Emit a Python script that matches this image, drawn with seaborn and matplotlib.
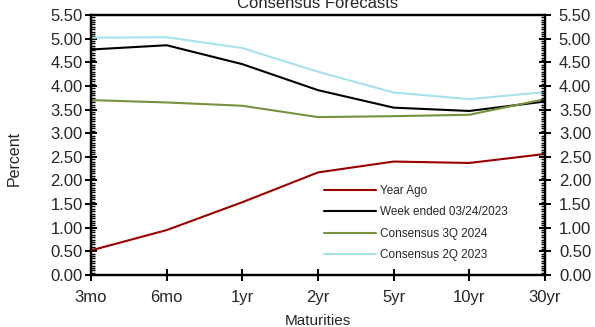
import matplotlib
matplotlib.use("Agg")
import matplotlib.pyplot as plt
from matplotlib.ticker import MultipleLocator, FormatStrFormatter
import seaborn as sns
import pandas as pd

# Treasury yield curve by maturity
maturities = ["3mo", "6mo", "1yr", "2yr", "5yr", "10yr", "30yr"]
year_ago = [0.52, 0.95, 1.54, 2.17, 2.40, 2.37, 2.56]
week_ended = [4.77, 4.86, 4.46, 3.91, 3.54, 3.47, 3.67]
consensus_3q24 = [3.70, 3.65, 3.58, 3.34, 3.36, 3.39, 3.72]
consensus_2q23 = [5.02, 5.03, 4.80, 4.30, 3.86, 3.72, 3.87]

series_names = ["Year Ago", "Week ended 03/24/2023",
                "Consensus 3Q 2024", "Consensus 2Q 2023"]
series_values = [year_ago, week_ended, consensus_3q24, consensus_2q23]
palette = ["#990000", "#000000", "#76923C", "#A6E1EC"]

rows = []
for name, vals in zip(series_names, series_values):
    for i, v in enumerate(vals):
        rows.append({"pos": i, "Series": name, "Percent": v})
df = pd.DataFrame(rows)

sns.set_theme(style="white")
plt.rcParams["font.family"] = ["Liberation Sans", "DejaVu Sans"]

fig = plt.figure(figsize=(5.95, 3.27), dpi=100)
ax = fig.add_axes([91 / 595, 1 - 275 / 327, (545 - 91) / 595, (275 - 15) / 327])

sns.lineplot(data=df, x="pos", y="Percent", hue="Series",
             hue_order=series_names, palette=palette, linewidth=1.5,
             ax=ax, legend=True)

ax.set_xlim(0, len(maturities) - 1)
ax.set_ylim(0, 5.5)
ax.set_xticks(range(len(maturities)))
ax.set_xticklabels(maturities)
ax.yaxis.set_major_locator(MultipleLocator(0.5))
ax.yaxis.set_minor_locator(MultipleLocator(0.05))
ax.yaxis.set_major_formatter(FormatStrFormatter("%.2f"))

for s in ax.spines.values():
    s.set_visible(True)
    s.set_color("black")
    s.set_linewidth(1.6)

ax.tick_params(axis="both", which="major", direction="inout", length=8,
               width=1.4, color="black", labelsize=12, pad=2,
               left=True, bottom=True)
ax.tick_params(axis="x", which="major", pad=7)
ax.tick_params(axis="y", which="minor", direction="in", length=3,
               width=1.0, color="black", left=True)

ax.set_xlabel("Maturities", fontsize=11, labelpad=6)
ax.set_ylabel("")
fig.text(14 / 595, 1 - 158 / 327, "Percent", rotation=90, ha="center",
         va="center", fontsize=11.5)

# Mirrored axis on the right
ax2 = ax.twinx()
ax2.set_ylim(ax.get_ylim())
ax2.yaxis.set_major_locator(MultipleLocator(0.5))
ax2.yaxis.set_minor_locator(MultipleLocator(0.05))
ax2.yaxis.set_major_formatter(FormatStrFormatter("%.2f"))
ax2.tick_params(axis="y", which="major", direction="inout", length=8,
                width=1.4, color="black", labelsize=12, pad=6, right=True)
ax2.tick_params(axis="y", which="minor", direction="in", length=3,
                width=1.0, color="black", right=True)
ax2.grid(False)
for s in ax2.spines.values():
    s.set_linewidth(1.6)
    s.set_color("black")

leg = ax.legend(loc="lower left", bbox_to_anchor=(0.489, 0.012),
                frameon=False, fontsize=8.5, handlelength=4.4,
                handletextpad=0.35, labelspacing=0.8)
for line in leg.get_lines():
    line.set_linewidth(1.5)

fig.text(318 / 595, 1 - 8 / 327, "Consensus Forecasts", ha="center",
         va="baseline", fontsize=12)

fig.savefig("out.png", dpi=100)
